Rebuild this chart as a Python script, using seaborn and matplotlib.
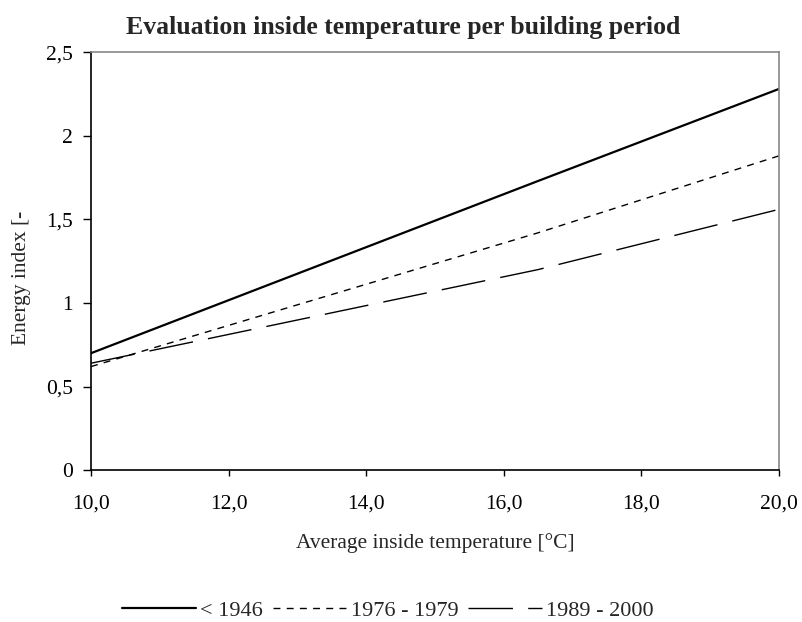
import matplotlib
matplotlib.use("Agg")
import matplotlib.pyplot as plt
import seaborn as sns
import pandas as pd

# data
temps = [10.0, 16.5, 20.0]
before_1946 = [0.70, 1.73, 2.28]
p_1976_1979 = [0.62, 1.42, 1.88]
p_1989_2000 = [0.64, 1.20, 1.56]
periods = ["< 1946", "1976 - 1979", "1989 - 2000"]
xtick_vals = [10, 12, 14, 16, 18, 20]
xtick_labels = ["10,0", "12,0", "14,0", "16,0", "18,0", "20,0"]
ytick_vals = [0, 0.5, 1, 1.5, 2, 2.5]
ytick_labels = ["0", "0,5", "1", "1,5", "2", "2,5"]

df = pd.DataFrame({
    "temp": temps * 3,
    "index": before_1946 + p_1976_1979 + p_1989_2000,
    "period": [periods[0]] * 3 + [periods[1]] * 3 + [periods[2]] * 3,
})

sns.set_style("white")
plt.rcParams["font.family"] = ["Liberation Serif", "DejaVu Serif"]

fig = plt.figure(figsize=(8.02, 6.22), dpi=100)
ax = fig.add_axes([0.1135, 0.244, 0.8575, 0.672])

dashes = {periods[0]: "", periods[1]: (5, 4.5), periods[2]: (32, 11)}
widths = {periods[0]: 1.6, periods[1]: 1.0, periods[2]: 1.0}
for p in periods:
    sns.lineplot(data=df[df["period"] == p], x="temp", y="index", ax=ax,
                 color="black", lw=widths[p], label=p)
    if dashes[p]:
        ax.lines[-1].set_dashes(dashes[p])

ax.set_xlim(10, 20)
ax.set_ylim(0, 2.5)
ax.set_xticks(xtick_vals)
ax.set_xticklabels(xtick_labels)
ax.set_yticks(ytick_vals)
ax.set_yticklabels(ytick_labels)
ax.tick_params(axis="both", direction="out", width=1, colors="black",
               labelsize=15.5, left=True, bottom=True)
ax.tick_params(axis="y", length=6, pad=7)
ax.tick_params(axis="x", length=4.5, pad=13)

for s in ["left", "bottom"]:
    ax.spines[s].set_color("black")
    ax.spines[s].set_linewidth(1.2)
for s in ["top", "right"]:
    ax.spines[s].set_color("#888888")
    ax.spines[s].set_linewidth(1.2)

ax.set_xlabel("Average inside temperature [°C]", fontsize=15.5, labelpad=14)
ax.set_ylabel("Energy index [-", fontsize=15.5)
ax.yaxis.set_label_coords(-0.088, 0.46)
fig.suptitle("Evaluation inside temperature per building period",
             fontsize=18.5, fontweight="bold", x=0.503, y=0.975, va="top")

ax.legend(loc="center", bbox_to_anchor=(0.432, -0.335), ncol=3, frameon=False,
          fontsize=16, handlelength=3.3, handletextpad=0.2, columnspacing=0.45)

fig.savefig("out.png", dpi=100)
